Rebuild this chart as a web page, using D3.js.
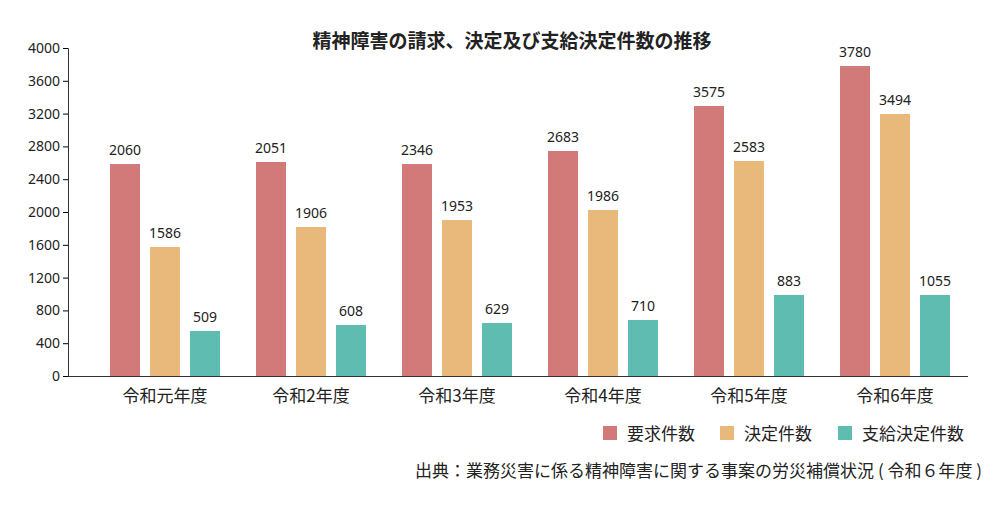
<!DOCTYPE html>
<html><head><meta charset="utf-8">
<script src="https://cdn.jsdelivr.net/npm/d3@7"></script>
<style>body{margin:0;background:#fff;font-family:"Noto Sans CJK JP","Noto Sans",sans-serif;}</style>
</head><body><svg id="c" width="1000" height="512"></svg>
<script>
const categories = ["令和元年度","令和2年度","令和3年度","令和4年度","令和5年度","令和6年度"];
const seriesNames = ["要求件数","決定件数","支給決定件数"];
const seriesColors = ["#d27a7a","#e8b97a","#5fbcb0"];
// bar heights as drawn in the picture
const requestBars = [2585,2610,2585,2744,3293,3780];
const decisionBars = [1573,1817,1902,2024,2622,3195];
const approvedBars = [549,622,646,683,988,988];
// value labels as printed
const requestLabels = [2060,2051,2346,2683,3575,3780];
const decisionLabels = [1586,1906,1953,1986,2583,3494];
const approvedLabels = [509,608,629,710,883,1055];
const yTicks = [0,400,800,1200,1600,2000,2400,2800,3200,3600,4000];

const bars=[requestBars,decisionBars,approvedBars];
const labels=[requestLabels,decisionLabels,approvedLabels];
const svg=d3.select("#c");
const y=d3.scaleLinear().domain([0,4000]).range([376,48]);
const x=d3.scaleBand().domain(categories).range([92,968]);
const bw=30, gap=10;

const ya=svg.append("g").attr("transform","translate(68,0)").call(d3.axisLeft(y).tickValues(yTicks).tickSize(5).tickFormat(d3.format("d")));
ya.select(".domain").attr("stroke","#333");
ya.selectAll("text").attr("font-size",14).attr("fill","#222").attr("font-family","Noto Sans");
svg.append("line").attr("x1",68).attr("x2",968).attr("y1",376.5).attr("y2",376.5).attr("stroke","#333");

categories.forEach((c,i)=>{
  const cx=x(c)+x.bandwidth()/2;
  bars.forEach((s,k)=>{
    const bx=cx-55+k*(bw+gap);
    svg.append("rect").attr("x",bx).attr("y",y(s[i])).attr("width",bw).attr("height",y(0)-y(s[i])).attr("fill",seriesColors[k]);
    svg.append("text").attr("x",bx+bw/2).attr("y",y(s[i])-9).attr("text-anchor","middle").attr("font-size",14).attr("fill","#222").attr("font-family","Noto Sans").text(labels[k][i]);
  });
  svg.append("text").attr("x",cx).attr("y",402).attr("text-anchor","middle").attr("font-size",17).attr("fill","#222").text(c);
});

svg.append("text").attr("x",512).attr("y",48).attr("text-anchor","middle").attr("font-size",19).attr("font-weight","bold").attr("fill","#222").text("精神障害の請求、決定及び支給決定件数の推移");

const lx=[603,720,838];
seriesNames.forEach((n,k)=>{
  svg.append("rect").attr("x",lx[k]).attr("y",426).attr("width",14).attr("height",14).attr("fill",seriesColors[k]);
  svg.append("text").attr("x",lx[k]+24).attr("y",440).attr("font-size",17).attr("fill","#222").text(n);
});
svg.append("text").attr("x",982).attr("y",477).attr("text-anchor","end").attr("font-size",17).attr("fill","#222").text("出典：業務災害に係る精神障害に関する事案の労災補償状況 ( 令和６年度 )");
</script></body></html>
